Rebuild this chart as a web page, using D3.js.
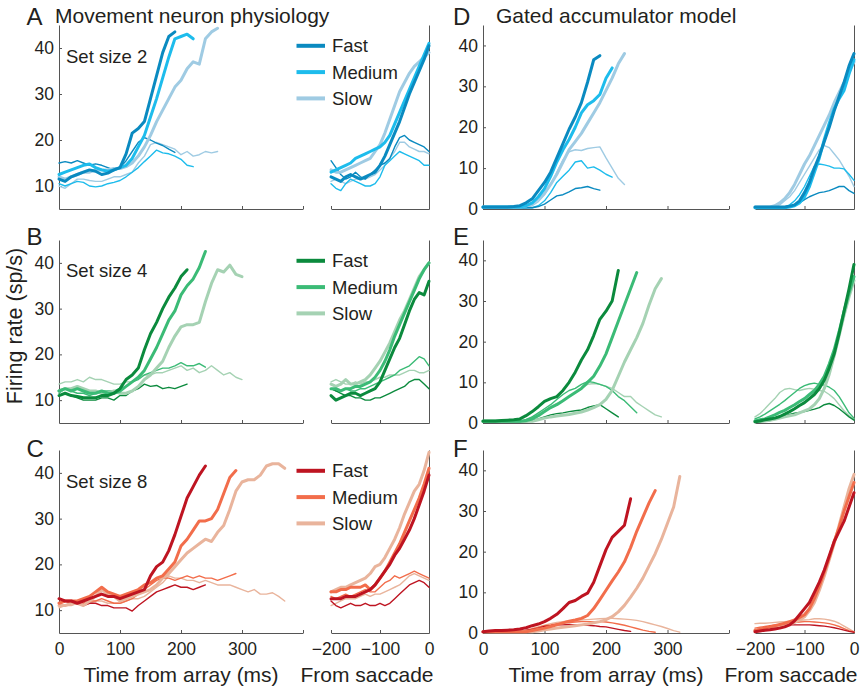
<!DOCTYPE html>
<html><head><meta charset="utf-8">
<script src="https://cdn.jsdelivr.net/npm/d3@7"></script>
<style>
body{margin:0;background:#fff}
text{font-family:"Liberation Sans",Arial,Helvetica,sans-serif;fill:#231f20}
</style>
</head><body>
<svg id="fig" width="860" height="688"></svg>
<script>
// ---- categories, ticks, labels ----
const speeds = ["Fast", "Medium", "Slow"];
const setSizes = [2, 4, 8];
const panelLetters = [["A", "B", "C"], ["D", "E", "F"]];
const columnTitles = ["Movement neuron physiology", "Gated accumulator model"];
const arrayTicks = [0, 100, 200, 300, 400];
const arrayTickLabels = [0, 100, 200, 300];
const saccTicks = [-200, -100, 0];
const physYTicks = [10, 20, 30, 40];
const modelYTicks = [0, 10, 20, 30, 40];
const blues = ["#0a8ac0", "#1dbcec", "#9fcbe3"];
const greens = ["#0b8a3d", "#3bbb76", "#a5d2b3"];
const reds = ["#be1421", "#f26d4b", "#e9b49c"];
const stepMs = 10; // sampling interval of every trace

// ---- physiology, set size 2 (array-aligned from 0 ms, saccade-aligned from -200 ms) ----
const phys2ArrTarget = [
  [11.5,11,12,12.5,13,13.5,13.2,12.5,12.8,13.5,14,17,21.5,22.5,24,29,34,39,42.5,43.5],
  [12.5,13,13.5,14,14.5,14.8,14,13.5,13.2,13.5,14,14.5,16,18.5,21,25,29,33.5,38,42,42.5,43,42],
  [12,11.5,12,12.5,13,13,13.5,13.5,13.5,13.8,13.8,14.2,15,16.5,18.5,21,24,26.5,29,31.5,33,35.5,37,36.5,42,43.5,44.3]
];
const phys2ArrDistr = [
  [15,15.3,15,15.5,15,14.5,14.8,14.5,14,13.5,14,15.5,17.5,19.5,20.5,20,19.3,18.8,18,17.3],
  [10.5,10,10.5,11,10.8,10,9.8,10,10.5,10.8,11.2,12,13,14,15.3,16.5,17.8,17.2,17,16.5,15.8,14.5,14.2],
  [10,9.5,10.5,11.5,11.5,11.2,11,11,11.5,12,12,12.5,13,15,16.5,19,19.5,19,18.5,18,16.8,17.5,16.5,16.8,17.5,17.2,17.5]
];
const phys2SacTarget = [
  [12,11.5,11,12,12.5,12,11.5,12,12.5,13,14.5,16.5,19,21.5,24,27,30,32.5,35,37.5,40.5],
  [13,13.5,14,14.5,15,16,16.5,17,17.5,18,18.5,19.5,21,23.5,26,28.5,31,33.5,36,38.5,41],
  [13.5,13,13,13.5,14,14.5,15,15.5,16,17.5,19,21.5,24.5,27.5,30.5,32.5,34.5,36,37,38,39]
];
const phys2SacDistr = [
  [15.5,14,12.5,11.5,12,13,12,11.5,12.5,13.5,14.5,15,16,18.5,20.5,21,20,19.5,19,18.5,17.5],
  [10.5,9.5,9,10.5,11.5,11,10.5,10,10,10.5,12,14.5,15.5,16.5,17.5,17,16.5,16,15.5,14.5,14.5],
  [11,11.5,11,10.5,11,11.5,11.5,11.5,12,12.5,13.5,14.5,16,17.5,19.5,19.5,18.5,18,17.5,17.5,17]
];

// ---- physiology, set size 4 ----
const phys4ArrTarget = [
  [11,11.5,11,10.8,10.5,10.5,10.5,11,11,11.5,12.5,14.5,15.5,17,21,24.5,27,30,32.5,34.5,37,38.5],
  [12,12.5,12,12.5,12,11.5,11.5,12,11.5,11.5,12,13,14,15,16.5,19,21.5,24.5,27.5,29.5,33,35,36.5,39,42.5],
  [12,12.5,12.5,13,12.5,12,12,11.5,11.5,12,11.5,11.5,12,13,14.5,15.5,17,18.5,21.5,24,26,26.5,26.5,27,31.5,35.5,38.5,38,39.5,37.5,37]
];
const phys4ArrDistr = [
  [11,11.5,11,10.5,10,10,10,10.5,10.5,10,11,11,12,12.5,13.5,13,13.2,12.5,12.8,12.5,13,13.5],
  [11.5,12.5,12,11.5,11.5,11,11.5,12,12,12,12.5,13,14,14.5,15.5,16,16.5,17,17,17.5,18.2,17.5,17.5,18,17.2],
  [13.5,14,14,14.5,14,15,14.5,14.5,14,13.5,13.5,14,14,15,15.5,15.5,16,16,16.5,17,17.5,16.5,17,16,16.5,17.5,16.5,15.5,16,15,14.5]
];
const phys4SacTarget = [
  [11,10,10.5,11,11.5,11.5,11,11.5,12,12.5,14,16.5,19,21.5,23.5,26.5,29.5,32,33.5,33,36],
  [12.5,12.5,12,12.5,12.5,13,13,13.5,14,15,16.5,18.5,21,24,26.5,29,31.5,34,36.5,38.5,40],
  [13.5,13,13.5,14.5,13.5,13.5,14,14.5,15.5,17,18.5,20.5,22.5,25,27.5,29.5,32,34.5,37,38.5,40]
];
const phys4SacDistr = [
  [12.5,12,11.5,11,11,10.5,10.5,10,10,10.5,10.5,11,11.5,12,12.5,13,14,14.5,14.5,13.5,12.5],
  [12.5,12,12,12.5,12,12,12.5,12.5,13,13.5,14,14.5,15,15.5,16.5,17,17.5,18.5,19.5,19,17.5],
  [14,14.5,14,13.5,13.5,14,13.5,14,14,14.5,15,15,15.5,15.5,15.5,16,16.5,16.5,16,16,16.5]
];

// ---- physiology, set size 8 ----
const phys8ArrTarget = [
  [12.5,12,12,11.5,12,12.5,13,13.5,13,13,12.5,13,13.5,14,14.5,17.5,19.5,20.5,23,26.5,30.5,34.5,37,39.5,41.5],
  [11.5,12,12,12,12.5,13,14,15,14,13.5,13,13.5,14,14.5,15.5,16,17,17.5,19,20.5,24,25.5,27.5,29.5,29.5,30,32,35.5,39,40.5],
  [11,11,11.5,11.5,11,12,13,14.5,13.5,13,12,12.5,13,13.5,14,14.5,15.5,17,18,19.5,21,22.5,23.5,24.5,25.5,25,27,28.5,32,36,38,38.5,38.5,39.5,41.5,42,42,41]
];
const phys8ArrDistr = [
  [12.5,12,11.5,11.5,11,11.5,11.5,11,11,10.5,10.5,10.5,9.8,11,12,13,14,14.5,15,15.5,15,15,14.5,15,15.5],
  [11.5,11,11.5,12,11.5,12,12,12.5,12,11.5,11.5,12,12.5,13.5,14.5,15.5,16.5,17,17,16.5,17,17.5,17,17.5,17,17,16.5,17,17.5,18],
  [10.5,11,11,11.5,11,11.5,12,12,11.5,11.5,11.5,12,12.5,12.5,13,14,15,16,17.5,17,17,16.5,16.5,16,16.5,16,15.5,15.5,15.5,15,14.5,14,14.5,13.5,13.5,13.8,13,12]
];
const phys8SacTarget = [
  [12.5,12.5,12.5,13,13,13,13.5,14,14.5,15.5,17,18.5,20,22,23.5,25.5,27.5,30,33,36,39.5],
  [14,14,14.5,14.5,15,15,15,15.5,14.5,15.5,17,18.5,20.5,22.5,24.5,27,29.5,32,34.5,37.5,41],
  [14,14.5,15,15,15.5,16,16.5,17,18,19.5,20,21.5,23.5,25.5,28,31,33.5,36,37.5,40.5,44.5]
];
const phys8SacDistr = [
  [12,11,10.5,11,11.5,11,11,11.5,11,11,11.5,11,11.5,12.5,13.5,14.5,15.5,16,16.5,16,15],
  [13,12.5,13,13.5,13,13.5,14,14.5,14,14,15,16,16.5,17.5,17,17.5,18,18.5,18,17.5,17],
  [11,11.5,12,12.5,12.5,12.5,13,13.5,13,13.5,13.5,14,14.5,15,15.5,16.5,17.5,18,17.5,17,16.5]
];

// ---- model, set size 2 ----
const model2ArrTarget = [
  [0.5,0.5,0.5,0.5,0.5,0.6,0.8,1.5,2.5,4.5,6.5,9,12.5,16,19.5,22.5,26,31,36.5,37.5],
  [0.5,0.5,0.5,0.5,0.5,0.5,0.5,0.8,1.5,3,5,8,11.5,14.5,17,20,23.5,25.5,26.5,28,32,34.5],
  [0.5,0.5,0.5,0.5,0.5,0.5,0.5,0.7,1.3,2.5,3.8,6,8.5,11.5,14.5,16.5,18.5,21,23.5,26,29,32,35.5,38]
];
const model2ArrDistr = [
  [0.3,0.3,0.3,0.3,0.3,0.3,0.3,0.3,0.3,0.6,1.2,2.2,3.2,3.5,4.2,5,5.2,5.5,5,4.6],
  [0.3,0.3,0.3,0.3,0.3,0.3,0.3,0.3,0.3,0.8,2,4,6.5,8,9.5,11.5,11.8,10,10.3,9.5,8.5,7.8],
  [0.3,0.3,0.3,0.3,0.3,0.3,0.3,0.3,0.8,1.8,3.5,6,9,12,14,14.5,14.3,14.8,15,15.2,12.5,10,7.5,6]
];
const model2SacTarget = [
  [0.5,0.5,0.5,0.5,0.5,0.5,0.5,0.7,1,2,4,6.5,10,13,16.5,20,24,27.5,31,35,38],
  [0.3,0.3,0.3,0.3,0.3,0.3,0.3,0.5,0.8,1.5,3,5.5,9,12.5,17,21,24.5,27,29,33,36.5],
  [0.5,0.5,0.5,0.5,0.8,1.5,2.5,4,6,8.5,11,13,15.5,18,20.5,23,26,28.5,31,33.5,36]
];
const model2SacDistr = [
  [0.2,0.2,0.2,0.2,0.2,0.2,0.3,0.5,0.8,1.5,2.3,3,3.5,4,4.2,4.5,5,5.5,5.5,4.5,3.8],
  [0.2,0.2,0.2,0.2,0.2,0.3,0.5,1,2,3.5,5.5,8,10.5,11,10.8,10.5,10,10,9.8,8.5,7],
  [0.3,0.3,0.3,0.3,0.5,1,2,3,4.5,6.5,8.5,10.5,12.5,14.5,15.5,15,13.5,12,10,8,5.5]
];

// ---- model, set size 4 ----
const model4ArrTarget = [
  [0.5,0.5,0.5,0.6,0.7,0.8,1,1.8,2.8,4,5.3,6,6.5,8,10,12.5,15.5,18,21.5,25.5,27.5,30,37.5],
  [0.4,0.4,0.4,0.4,0.4,0.4,0.4,0.6,1,1.8,2.8,3.8,4.5,5.5,6.5,7.5,8.5,10,11.5,14,17,21,25,29,33,37],
  [0.4,0.4,0.4,0.4,0.4,0.4,0.4,0.4,0.4,0.8,1.2,1.5,1.7,1.9,2.1,2.4,2.7,3.2,3.8,4.5,5.8,8,11.5,15,18,21,24.5,29,33,35.5]
];
const model4ArrDistr = [
  [0.3,0.3,0.3,0.3,0.3,0.3,0.3,0.3,0.6,1,1.5,2,2.3,2.5,2.8,3,3.2,3.8,4.2,4.5,3.5,2.5,1.5],
  [0.3,0.3,0.3,0.3,0.3,0.3,0.3,0.8,1.5,2.5,3.5,4.5,5.8,7,8,8.5,9.5,10.2,10,9.5,9,8,6.5,5.5,4,2.5],
  [0.3,0.3,0.3,0.3,0.3,0.3,0.3,0.8,1.5,2.2,3,4,4.8,5.5,6.5,7.5,8.5,9.5,9.7,9.5,9,8.5,7.5,6.5,6.5,5,4,3,2,1.5]
];
const model4SacTarget = [
  [0.3,0.5,0.8,1,1.2,1.6,2.2,2.8,3.5,4.3,5,6,7,8.5,10.5,13.5,17,22,27.5,33,39],
  [0.5,0.8,1,1.5,2,2.6,3.1,3.8,4.5,5.3,6,7,8,9.5,11.5,14.5,18,22.5,27.5,32,36],
  [0.3,0.4,0.5,0.7,0.9,1.2,1.5,1.8,2,2.5,3,3.5,4.5,6,8.5,12,16.5,21.5,26.5,31,35]
];
const model4SacDistr = [
  [0.2,0.3,0.4,0.6,0.9,1.3,1.7,2.1,2.4,2.6,2.8,3.1,3.4,3.8,4.5,4.8,4.3,3.5,2.5,1.5,0.7],
  [1,1.5,2.2,3,3.8,4.6,5.5,6.5,7.5,8.5,9.2,9.6,9.8,9.5,9.3,8.8,8,6.5,4.5,2.5,1.2],
  [1.5,2.3,3.5,4.8,6,7.5,8.3,8.5,8.2,8,8.3,8.5,8.3,8,7.8,7,6,4.5,3,1.8,1]
];

// ---- model, set size 8 ----
const model8ArrTarget = [
  [0.3,0.5,0.6,0.6,0.7,0.8,1,1.3,1.8,2.2,2.8,3.6,4.6,6,7.5,8,9,9.8,12.5,16.5,20.5,23.5,25,26.5,33],
  [0.3,0.3,0.3,0.3,0.3,0.3,0.3,0.3,0.6,0.9,1.2,1.6,2,2.5,2.9,3.2,3.6,4.3,6,8.2,10.5,12.8,15,17.5,21,25,28.5,32,35],
  [0.3,0.3,0.3,0.3,0.3,0.3,0.3,0.3,0.3,0.5,0.8,1,1.2,1.4,1.6,1.8,2,2.2,2.5,2.8,3.3,4,5.2,6.8,8.8,11,13.5,16.5,19.5,23,27,31,38.5]
];
const model8ArrDistr = [
  [0.3,0.3,0.3,0.3,0.3,0.3,0.3,0.6,0.9,1.2,1.6,1.8,2,2,2.1,2,2,1.9,1.8,1.6,1.5,1.2,0.9,0.6,0.4],
  [0.3,0.3,0.3,0.3,0.3,0.3,0.3,0.6,1,1.4,1.8,2,2.3,2.5,2.6,2.7,2.8,2.8,2.8,2.8,2.7,2.5,2.2,1.9,1.5,1.1,0.7,0.4,0.2],
  [0.3,0.3,0.3,0.3,0.3,0.3,0.3,0.7,1.1,1.5,1.9,2.3,2.6,2.8,3,3.1,3.2,3.3,3.4,3.5,3.6,3.6,3.5,3.4,3.3,3.1,2.8,2.4,2,1.6,1.1,0.6,0.2]
];
const model8SacTarget = [
  [0.3,0.5,0.7,0.8,1,1.2,1.5,2,3,4.5,6,7.5,10,12.5,15.5,19,22.5,25,27.5,31,34.5],
  [0.6,0.9,1.2,1.5,1.8,2.1,2.4,2.8,3.2,3.8,4.5,6,8.5,11.5,15,18.5,22.5,26,30,33.5,37],
  [0.6,0.8,1,1.2,1.4,1.6,1.9,2.2,2.6,3.2,4,5.5,7.5,10.5,14,18,22,26.5,31,35.5,39]
];
const model8SacDistr = [
  [0.7,1,1.3,1.6,1.7,1.8,1.9,2,2,2,2,2,1.9,1.8,1.7,1.5,1.3,1,0.7,0.4,0.2],
  [1.2,1.4,1.6,1.8,2,2.1,2.3,2.5,2.6,2.7,2.8,2.8,2.7,2.6,2.5,2.3,2,1.6,1.1,0.6,0.3],
  [2.3,2.4,2.4,2.5,2.6,2.7,2.8,2.9,3,3.1,3.2,3.3,3.5,3.5,3.4,3.2,2.9,2.4,1.7,1,0.3]
];

// ---- figure layout ----
const svg = d3.select("#fig");
const axisColor = "#555";
const tickFont = 17.5, titleFont = 21, labelFont = 18.5, letterFont = 24;

const rowBands = [[25, 209], [240, 423], [450, 633]];
const columns = [
  {arrX: [59, 303], sacX: [331, 429], yDomain: [5, 45], yTicks: physYTicks, letterX: 26.5,
   titleX: 55, arrTitleX: 181, sacTitleX: 367, legend: true,
   rows: [
     {target: phys2ArrTarget, distr: phys2ArrDistr, sTarget: phys2SacTarget, sDistr: phys2SacDistr},
     {target: phys4ArrTarget, distr: phys4ArrDistr, sTarget: phys4SacTarget, sDistr: phys4SacDistr},
     {target: phys8ArrTarget, distr: phys8ArrDistr, sTarget: phys8SacTarget, sDistr: phys8SacDistr}
   ]},
  {arrX: [483, 729], sacX: [755, 854], yDomain: [0, 45], yTicks: modelYTicks, letterX: 453,
   titleX: 496, arrTitleX: 606, sacTitleX: 791, legend: false,
   rows: [
     {target: model2ArrTarget, distr: model2ArrDistr, sTarget: model2SacTarget, sDistr: model2SacDistr},
     {target: model4ArrTarget, distr: model4ArrDistr, sTarget: model4SacTarget, sDistr: model4SacDistr},
     {target: model8ArrTarget, distr: model8ArrDistr, sTarget: model8SacTarget, sDistr: model8SacDistr}
   ]}
];
const palettes = [blues, greens, reds];
const letterBaselines = [25, 245, 457];
const setSizeBaselines = [62.7, 277.3, 487.7];

function styleAxis(g) {
  g.selectAll("path, line").attr("stroke", axisColor).attr("stroke-width", 1);
  g.selectAll("text").attr("font-size", tickFont).attr("fill", "#231f20")
    .attr("font-family", '"Liberation Sans",Arial,sans-serif');
}

function drawTraces(g, x, y, series, t0, palette, width) {
  const line = d3.line()
    .x((d, i) => x(t0 + i * stepMs))
    .y(d => y(d));
  // slow first, fast on top
  [2, 1, 0].forEach(k => {
    g.append("path")
      .datum(series[k])
      .attr("d", line)
      .attr("fill", "none")
      .attr("stroke", palette[k])
      .attr("stroke-width", width)
      .attr("stroke-linejoin", "round")
      .attr("stroke-linecap", "round");
  });
}

const arrayFormat = v => arrayTickLabels.includes(v) ? d3.format("d")(v) : "";

columns.forEach((col, ci) => {
  svg.append("text").attr("x", col.titleX).attr("y", 23.3)
    .attr("font-size", titleFont).text(columnTitles[ci]);

  col.rows.forEach((row, ri) => {
    const [top, bottom] = rowBands[ri];
    const palette = palettes[ri];
    const y = d3.scaleLinear().domain(col.yDomain).range([bottom, top]);
    const xa = d3.scaleLinear().domain([0, 400]).range(col.arrX);
    const xs = d3.scaleLinear().domain([-200, 0]).range(col.sacX);
    const isBottom = ri === 2;

    svg.append("text").attr("x", col.letterX).attr("y", letterBaselines[ri])
      .attr("font-size", letterFont).text(panelLetters[ci][ri]);

    // array-aligned axes
    svg.append("g").attr("transform", `translate(0,${bottom})`)
      .call(d3.axisBottom(xa).tickValues(arrayTicks).tickSize(-3).tickSizeOuter(0)
        .tickPadding(10).tickFormat(isBottom ? arrayFormat : () => ""))
      .call(styleAxis);
    svg.append("g").attr("transform", `translate(${col.arrX[0]},0)`)
      .call(d3.axisLeft(y).tickValues(col.yTicks).tickSize(-3).tickSizeOuter(0).tickPadding(5))
      .call(styleAxis);

    // saccade-aligned axes
    svg.append("g").attr("transform", `translate(0,${bottom})`)
      .call(d3.axisBottom(xs).tickValues(saccTicks).tickSize(-3).tickSizeOuter(0)
        .tickPadding(10).tickFormat(isBottom ? d3.format("d") : () => ""))
      .call(styleAxis);
    svg.append("g").attr("transform", `translate(${col.sacX[1]},0)`)
      .call(d3.axisRight(y).tickValues([]).tickSizeOuter(0))
      .call(styleAxis);

    // traces: distractor-in (thin) then target-in (thick)
    const ga = svg.append("g");
    drawTraces(ga, xa, y, row.distr, 0, palette, 1.4);
    drawTraces(ga, xa, y, row.target, 0, palette, 3);
    const gs = svg.append("g");
    drawTraces(gs, xs, y, row.sDistr, -200, palette, 1.4);
    drawTraces(gs, xs, y, row.sTarget, -200, palette, 3);

    if (col.legend) {
      svg.append("text").attr("x", 66).attr("y", setSizeBaselines[ri])
        .attr("font-size", labelFont).text(`Set size ${setSizes[ri]}`);
      const legendY0 = top + 20.8;
      speeds.forEach((s, k) => {
        const ly = legendY0 + k * 26.3;
        svg.append("line").attr("x1", 296.5).attr("x2", 325).attr("y1", ly).attr("y2", ly)
          .attr("stroke", palette[k]).attr("stroke-width", 4);
        svg.append("text").attr("x", 332).attr("y", ly).attr("dy", "0.35em")
          .attr("font-size", labelFont).text(s);
      });
    }

    if (isBottom) {
      svg.append("text").attr("x", col.arrTitleX).attr("y", 682)
        .attr("text-anchor", "middle").attr("font-size", titleFont).text("Time from array (ms)");
      svg.append("text").attr("x", col.sacTitleX).attr("y", 682)
        .attr("text-anchor", "middle").attr("font-size", titleFont).text("From saccade");
    }
  });
});

// shared y-axis title
svg.append("text")
  .attr("transform", "translate(22,326) rotate(-90)")
  .attr("text-anchor", "middle").attr("font-size", 21.5)
  .text("Firing rate (sp/s)");
</script>
</body></html>
